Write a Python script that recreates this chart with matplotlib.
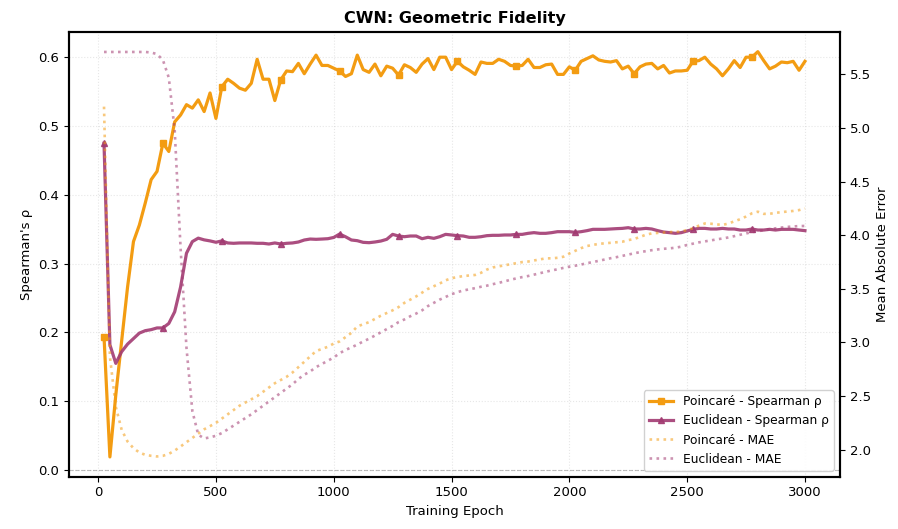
import numpy as np
import matplotlib
matplotlib.use("Agg")
import matplotlib.pyplot as plt

epochs = np.arange(25, 3001, 25)

poincare_rho = [
    0.194, 0.019, 0.109, 0.188, 0.266, 0.332, 0.356, 0.388, 0.422, 0.434,
    0.475, 0.463, 0.506, 0.516, 0.531, 0.526, 0.538, 0.521, 0.548, 0.511,
    0.557, 0.568, 0.562, 0.555, 0.552, 0.562, 0.597, 0.568, 0.568, 0.537,
    0.567, 0.580, 0.579, 0.591, 0.576, 0.590, 0.603, 0.588, 0.588, 0.584,
    0.580, 0.572, 0.576, 0.603, 0.582, 0.578, 0.590, 0.573, 0.587, 0.584,
    0.574, 0.589, 0.585, 0.578, 0.590, 0.598, 0.582, 0.600, 0.600, 0.582,
    0.594, 0.586, 0.581, 0.575, 0.593, 0.591, 0.591, 0.597, 0.594, 0.588,
    0.587, 0.588, 0.597, 0.585, 0.585, 0.589, 0.590, 0.575, 0.575, 0.586,
    0.581, 0.594, 0.598, 0.602, 0.596, 0.594, 0.593, 0.595, 0.583, 0.587,
    0.576, 0.586, 0.590, 0.591, 0.583, 0.588, 0.577, 0.580, 0.580, 0.581,
    0.594, 0.595, 0.600, 0.590, 0.583, 0.573, 0.583, 0.595, 0.585, 0.600,
    0.600, 0.608, 0.595, 0.583, 0.587, 0.593, 0.592, 0.594, 0.581, 0.594,
]

euclid_rho = [
    0.475, 0.182, 0.155, 0.172, 0.183, 0.191, 0.199, 0.2025, 0.204, 0.2065,
    0.2065, 0.213, 0.230, 0.266, 0.315, 0.332, 0.337, 0.3345, 0.333, 0.331,
    0.333, 0.330, 0.3295, 0.330, 0.330, 0.330, 0.3295, 0.3295, 0.3285, 0.330,
    0.3285, 0.3295, 0.330, 0.3314, 0.3343, 0.3357, 0.3353, 0.3357, 0.3362, 0.338,
    0.343, 0.339, 0.3343, 0.3333, 0.3309, 0.3304, 0.3314, 0.3328, 0.3353, 0.3425,
    0.3401, 0.3391, 0.3401, 0.3401, 0.3362, 0.3382, 0.3367, 0.3391, 0.3425, 0.3416,
    0.3406, 0.3401, 0.3382, 0.3382, 0.3391, 0.3406, 0.3411, 0.3411, 0.3416, 0.3416,
    0.3425, 0.3425, 0.3440, 0.3450, 0.3440, 0.3440, 0.3450, 0.3464, 0.3464, 0.3464,
    0.3454, 0.3464, 0.3479, 0.3498, 0.3498, 0.3498, 0.3503, 0.3508, 0.3512, 0.3522,
    0.3503, 0.3503, 0.3512, 0.3503, 0.3479, 0.3459, 0.3450, 0.3440, 0.3450, 0.3474,
    0.3498, 0.3512, 0.3512, 0.3503, 0.3503, 0.3512, 0.3503, 0.3503, 0.3488, 0.3488,
    0.3503, 0.3488, 0.3488, 0.3498, 0.3488, 0.3498, 0.3498, 0.3498, 0.3488, 0.3479,
]

poincare_mae = [
    5.20, 2.87, 2.40, 2.185, 2.076, 2.014, 1.974, 1.952, 1.943, 1.937,
    1.943, 1.961, 1.992, 2.03, 2.07, 2.11, 2.15, 2.19, 2.22, 2.25,
    2.29, 2.33, 2.37, 2.41, 2.44, 2.47, 2.50, 2.54, 2.58, 2.62,
    2.65, 2.68, 2.72, 2.77, 2.82, 2.87, 2.92, 2.94, 2.96, 2.99,
    3.01, 3.05, 3.09, 3.15, 3.17, 3.19, 3.22, 3.25, 3.275, 3.30,
    3.33, 3.37, 3.40, 3.43, 3.465, 3.50, 3.525, 3.55, 3.58, 3.60,
    3.61, 3.62, 3.625, 3.63, 3.65, 3.68, 3.70, 3.71, 3.72, 3.73,
    3.74, 3.75, 3.755, 3.765, 3.775, 3.785, 3.785, 3.79, 3.80, 3.83,
    3.855, 3.88, 3.90, 3.91, 3.92, 3.925, 3.93, 3.935, 3.94, 3.955,
    3.965, 3.985, 4.005, 4.018, 4.022, 4.026, 4.03, 4.033, 4.033, 4.05,
    4.065, 4.09, 4.11, 4.108, 4.102, 4.096, 4.11, 4.13, 4.15, 4.175,
    4.205, 4.22, 4.20, 4.20, 4.21, 4.215, 4.222, 4.227, 4.235, 4.25,
]

euclid_mae = [
    5.71, 5.71, 5.71, 5.71, 5.71, 5.71, 5.71, 5.71, 5.705, 5.69,
    5.635, 5.47, 4.98, 3.88, 2.95, 2.36, 2.14, 2.105, 2.115, 2.13,
    2.155, 2.19, 2.225, 2.26, 2.295, 2.33, 2.37, 2.41, 2.45, 2.49,
    2.53, 2.57, 2.61, 2.66, 2.70, 2.73, 2.77, 2.80, 2.83, 2.86,
    2.90, 2.93, 2.955, 2.98, 3.01, 3.035, 3.065, 3.095, 3.125, 3.155,
    3.19, 3.215, 3.245, 3.27, 3.30, 3.34, 3.37, 3.40, 3.425, 3.45,
    3.47, 3.485, 3.496, 3.507, 3.52, 3.53, 3.544, 3.556, 3.57, 3.585,
    3.598, 3.61, 3.62, 3.633, 3.646, 3.66, 3.672, 3.683, 3.696, 3.707,
    3.716, 3.727, 3.74, 3.75, 3.762, 3.774, 3.786, 3.796, 3.808, 3.82,
    3.832, 3.843, 3.852, 3.861, 3.868, 3.874, 3.878, 3.884, 3.894, 3.91,
    3.922, 3.934, 3.943, 3.952, 3.962, 3.97, 3.98, 3.992, 4.005, 4.017,
    4.03, 4.038, 4.047, 4.056, 4.065, 4.072, 4.078, 4.082, 4.086, 4.087,
]

c_poin = "#F39C12"
c_eucl = "#A23B72"

fig = plt.figure(figsize=(8.98, 5.29), dpi=100)
ax1 = fig.add_axes([0.0768, 0.0989, 0.8586, 0.8411])
ax2 = ax1.twinx()

# Spearman (linke Achse)
l1, = ax1.plot(epochs, poincare_rho, color=c_poin, lw=2.3, marker="s", ms=4.5,
               markevery=10, label="Poincaré - Spearman ρ")
l2, = ax1.plot(epochs, euclid_rho, color=c_eucl, lw=2.3, marker="^", ms=4.5,
               markevery=10, alpha=0.9, label="Euclidean - Spearman ρ")
ax1.axhline(0, color="gray", ls="--", lw=0.8, alpha=0.5)

# MAE (rechte Achse)
l3, = ax2.plot(epochs, poincare_mae, color=c_poin, lw=1.9, ls=":", alpha=0.55,
               label="Poincaré - MAE")
l4, = ax2.plot(epochs, euclid_mae, color=c_eucl, lw=1.9, ls=":", alpha=0.55,
               label="Euclidean - MAE")

ax1.set_ylim(-0.0097, 0.637)
ax1.set_xlabel("Training Epoch", fontsize=9.5)
ax1.set_ylabel("Spearman's ρ", fontsize=9.5)
ax2.set_ylabel("Mean Absolute Error", fontsize=9.5)
ax1.set_title("CWN: Geometric Fidelity", fontsize=11.5, fontweight="bold")
ax1.tick_params(labelsize=9.5)
ax2.tick_params(labelsize=9.5)
ax1.grid(True, ls=":", alpha=0.3)

for ax in (ax1, ax2):
    for s in ax.spines.values():
        s.set_linewidth(1.5)

ax1.legend(handles=[l1, l2, l3, l4], loc="lower right", fontsize=8.8, framealpha=0.9)

fig.savefig("out.png", dpi=100)
